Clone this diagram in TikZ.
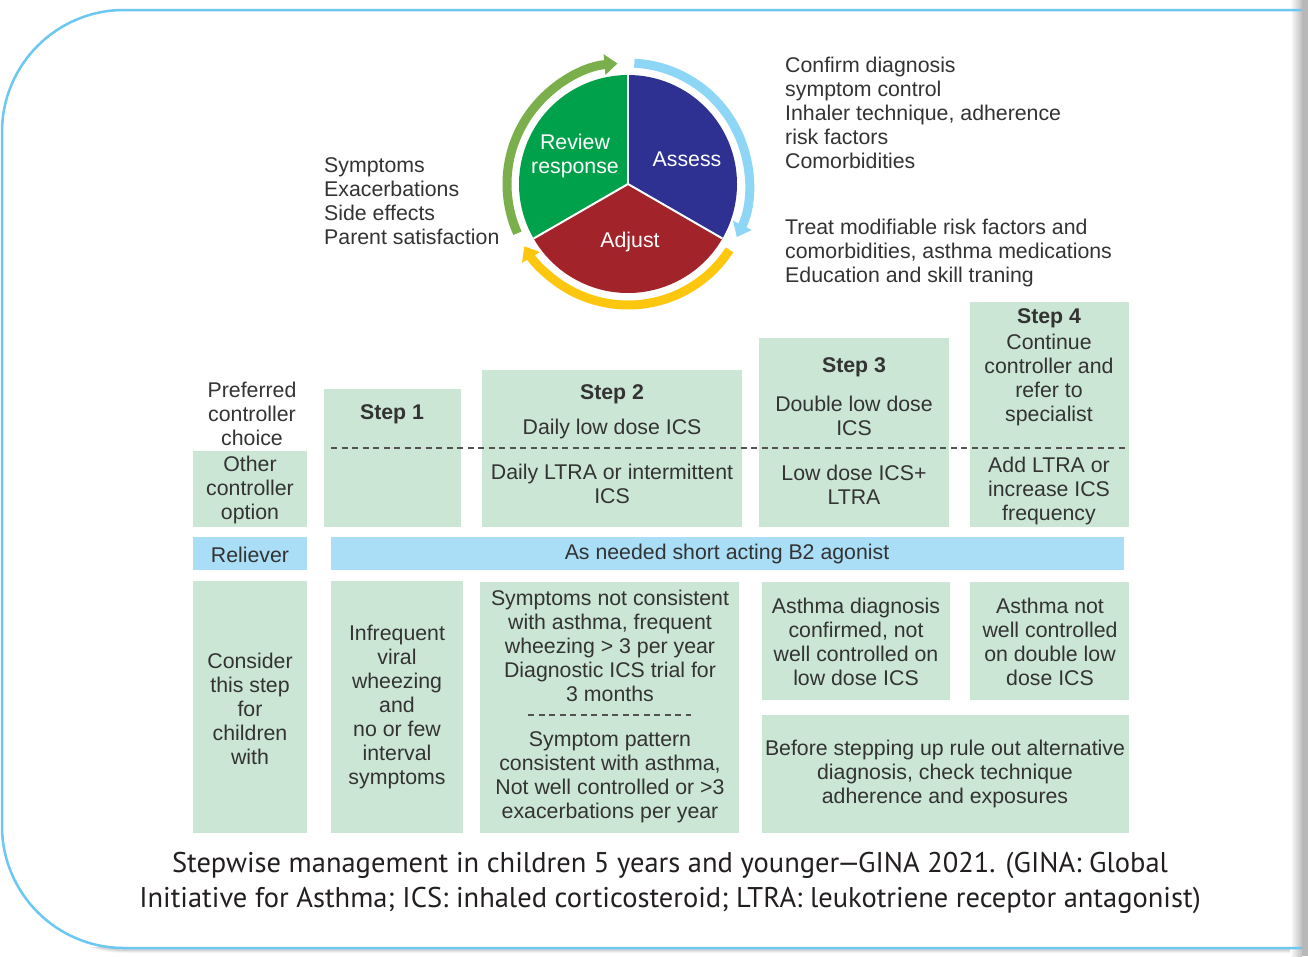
\documentclass[tikz,border=0pt]{standalone}
\usepackage{fontspec}
\setmainfont{Liberation Sans}
\newfontfamily\capfont{PT Sans}
\usetikzlibrary{arrows.meta,fit}
\definecolor{boxgreen}{HTML}{CBE6D5}
\definecolor{relblue}{HTML}{A9DEF6}
\definecolor{framebl}{HTML}{6CC7F1}
\definecolor{txtc}{HTML}{333333}
\definecolor{capc}{HTML}{231F20}
\definecolor{assessc}{HTML}{2E3192}
\definecolor{adjustc}{HTML}{A2242A}
\definecolor{reviewc}{HTML}{00A14B}
\definecolor{arrblue}{HTML}{8DD6F6}
\definecolor{arryel}{HTML}{FDC70F}
\definecolor{arrgrn}{HTML}{7BAF4B}
\tikzset{
  lbl/.style={font=\fontsize{21.3}{24}\selectfont, text=txtc, inner sep=0pt, align=center, yshift=-1.5pt},
  lblb/.style={lbl, font=\fontsize{21.3}{24}\selectfont\bfseries},
  lblL/.style={lbl, align=left, anchor=west},
  boxg/.style={fill=boxgreen, draw=none, inner sep=0pt},
  boxb/.style={fill=relblue, draw=none, inner sep=0pt},
  dashline/.style={draw=txtc!85, line width=1.3pt, dash pattern=on 6pt off 4.5pt},
  pielbl/.style={font=\fontsize{21.3}{24}\selectfont, text=white, inner sep=0pt, align=center, yshift=-1.5pt},
  ringarrow/.style={line width=9pt, -{Triangle[length=13pt,width=20pt]}},
}
\begin{document}
\begin{tikzpicture}[x=1pt,y=-1pt]
\useasboundingbox (0,0) rectangle (1308,956);
% frame shadow and frame
\foreach \o/\op in {6/0.04,4/0.06,2/0.08}{
  \draw[black, opacity=\op, line width=\o pt, rounded corners=122pt] (1308,12) -- (4,12) -- (4,950) -- (1308,950);
}
\shade[left color=white, right color=black!25] (1290,0) rectangle (1302,956);
\fill[black!28] (1302,0) rectangle (1308,956);
\fill[white] (3,11) rectangle (1292,947);
\draw[framebl, line width=2.5pt, rounded corners=122pt] (1302,10) -- (2,10) -- (2,948) -- (1302,948);

% pie
\coordinate (pc) at (628,184);
\begin{scope}[shift={(pc)}, yscale=-1]
  \fill[assessc] (0,0) -- (90:109) arc[start angle=90, end angle=-30, radius=109] -- cycle;
  \fill[adjustc] (0,0) -- (-30:109) arc[start angle=-30, end angle=-150, radius=109] -- cycle;
  \fill[reviewc] (0,0) -- (210:109) arc[start angle=210, end angle=90, radius=109] -- cycle;
  \draw[white, line width=2pt] (0,0) -- (90:109);
  \draw[white, line width=2pt] (0,0) -- (-30:109);
  \draw[white, line width=2pt] (0,0) -- (210:109);
  \draw[arrblue, ringarrow] (87:121) arc[start angle=87, end angle=-26, radius=121];
  \draw[arryel, ringarrow] (-33:121) arc[start angle=-33, end angle=-149, radius=121];
  \draw[arrgrn, ringarrow] (204:121) arc[start angle=204, end angle=95, radius=121];
\end{scope}
\node[pielbl] (review) at (575,154) {Review\\response};
\node[pielbl] (assess) at (687,158) {Assess};
\node[pielbl] (adjust) at (630,240) {Adjust};

% side texts
\node[lblL] (assessnote) at (785,111) {Confirm diagnosis\\symptom control\\Inhaler technique, adherence\\risk factors\\Comorbidities};
\node[lblL] (adjustnote) at (785,251) {Treat modifiable risk factors and\\comorbidities, asthma medications\\Education and skill traning};
\node[lblL] (reviewnote) at (324,200) {Symptoms\\Exacerbations\\Side effects\\Parent satisfaction};

% controller row
\node[lbl] (pref) at (252,412) {Preferred\\controller\\choice};
\node[boxg, fit={(193,451) (307,527)}] (other) {};
\node[lbl] (othert) at (250,488) {Other\\controller\\option};
\node[boxg, fit={(324,389) (461,527)}] (step1) {};
\node[boxg, fit={(482,370) (742,527)}] (step2) {};
\node[boxg, fit={(759,338) (949,527)}] (step3) {};
\node[boxg, fit={(970,302) (1129,527)}] (step4) {};
\coordinate (dA) at (331,448);
\coordinate (dB) at (1126,448);
\draw[dashline] (dA) -- (dB);

\node[lblb] (s1t) at (392,413) {Step 1};
\node[lblb] (s2t) at (612,393) {Step 2};
\node[lbl] (s2a) at (612,427) {Daily low dose ICS};
\node[lbl] (s2b) at (612,482) {Daily LTRA or intermittent\\ICS};
\node[lblb] (s3t) at (854,366) {Step 3};
\node[lbl] (s3a) at (854,414) {Double low dose\\ICS};
\node[lbl] (s3b) at (854,483) {Low dose ICS+\\LTRA};
\node[lblb] (s4t) at (1049,317) {Step 4};
\node[lbl] (s4a) at (1049,378) {Continue\\controller and\\refer to\\specialist};
\node[lbl] (s4b) at (1049,489) {Add LTRA or\\increase ICS\\frequency};

% reliever row
\node[boxb, fit={(193,537) (307,570)}] (rel) {};
\node[lbl] (relt) at (250,553) {Reliever};
\node[boxb, fit={(331,537) (1124,570)}] (b2) {};
\node[lbl] (b2t) at (727,552) {As needed short acting B2 agonist};

% bottom row
\node[boxg, fit={(193,581) (307,833)}] (consider) {};
\node[lbl] (considert) at (250,707) {Consider\\this step\\for\\children\\with};
\node[boxg, fit={(331,581) (463,833)}] (infreq) {};
\node[lbl] (infreqt) at (397,705) {Infrequent\\viral\\wheezing\\and\\no or few\\interval\\symptoms};
\node[boxg, fit={(480,582) (739,833)}] (sympt) {};
\node[lbl] (sympta) at (610,644) {Symptoms not consistent\\with asthma, frequent\\wheezing > 3 per year\\Diagnostic ICS trial for\\3 months};
\coordinate (eA) at (528,715);
\coordinate (eB) at (691,715);
\draw[dashline] (eA) -- (eB);
\node[lbl] (symptb) at (610,776) {Symptom pattern\\consistent with asthma,\\Not well controlled or >3\\exacerbations per year};
\node[boxg, fit={(762,582) (950,700)}] (diag) {};
\node[lbl] (diagt) at (856,640) {Asthma diagnosis\\confirmed, not\\well controlled on\\low dose ICS};
\node[boxg, fit={(970,582) (1129,700)}] (notwell) {};
\node[lbl] (notwellt) at (1050,640) {Asthma not\\well controlled\\on double low\\dose ICS};
\node[boxg, fit={(762,715) (1129,833)}] (before) {};
\node[lbl] (beforet) at (945,772) {Before stepping up rule out alternative\\diagnosis, check technique\\adherence and exposures};

% caption
\node[font=\capfont\fontsize{28.5}{35}\selectfont, text=capc, align=center, inner sep=0pt] (cap) at (670,883)
 {Stepwise management in children 5 years and younger\kern-0.08em—\kern-0.08em GINA 2021. (GINA: Global\\Initiative for Asthma; ICS: inhaled corticosteroid; LTRA: leukotriene receptor antagonist)};
\end{tikzpicture}
\end{document}
